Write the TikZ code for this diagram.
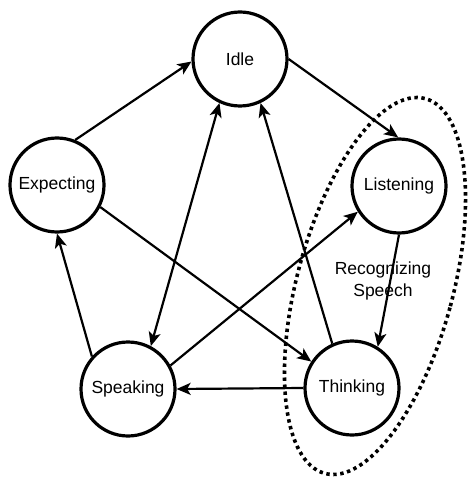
\documentclass[tikz,border=0pt]{standalone}
\usepackage{fontspec}
\setmainfont{Liberation Sans}
\usetikzlibrary{arrows.meta,shapes.geometric}
\begin{document}
\begin{tikzpicture}[x=1pt,y=-1pt,
  state/.style={draw, circle, line width=3.2pt, minimum size=94pt, inner sep=0pt,
    font=\fontsize{17.5}{21}\selectfont},
  tip/.style={Stealth[length=14pt,width=12pt,inset=3.5pt]},
  link/.style={line width=2.2pt, -{Stealth[length=14pt,width=12pt,inset=3.5pt]}},
  both/.style={line width=2.2pt, {Stealth[length=14pt,width=12pt,inset=3.5pt]}-{Stealth[length=14pt,width=12pt,inset=3.5pt]}},
  group/.style={draw, ellipse, line width=3.6pt, dash pattern=on 3.4pt off 3.6pt, inner sep=0pt}]
\useasboundingbox (0,0) rectangle (468,478);

% speech-recognition group
\node[group, minimum width=156pt, minimum height=388pt, rotate=-15] (grp) at (375,286) {};

% states
\node[state] (idle) at (240,59) {Idle};
\node[state] (exp)  at (57,185) {Expecting};
\node[state] (lis)  at (399,186) {Listening};
\node[state] (spk)  at (128,389) {Speaking};
\node[state] (thk)  at (352,388) {Thinking};

\node[font=\fontsize{17.5}{22}\selectfont, align=center] (rec) at (383,281) {Recognizing\\Speech};

% transitions
\draw[link] (exp.68) -- (idle.183);
\draw[link] (idle.0) -- (lis.91);
\draw[both] (idle.-115) -- (spk.62);
\draw[link] (thk.114) -- (idle.-65);
\draw[link] (exp.-27) -- (thk.147);
\draw[link] (spk.29) -- (lis.-148);
\draw[link] (lis.-90) -- (thk.58);
\draw[link] (thk.180) -- (spk.0);
\draw[link] (spk.138) -- (exp.-90);
\end{tikzpicture}
\end{document}
